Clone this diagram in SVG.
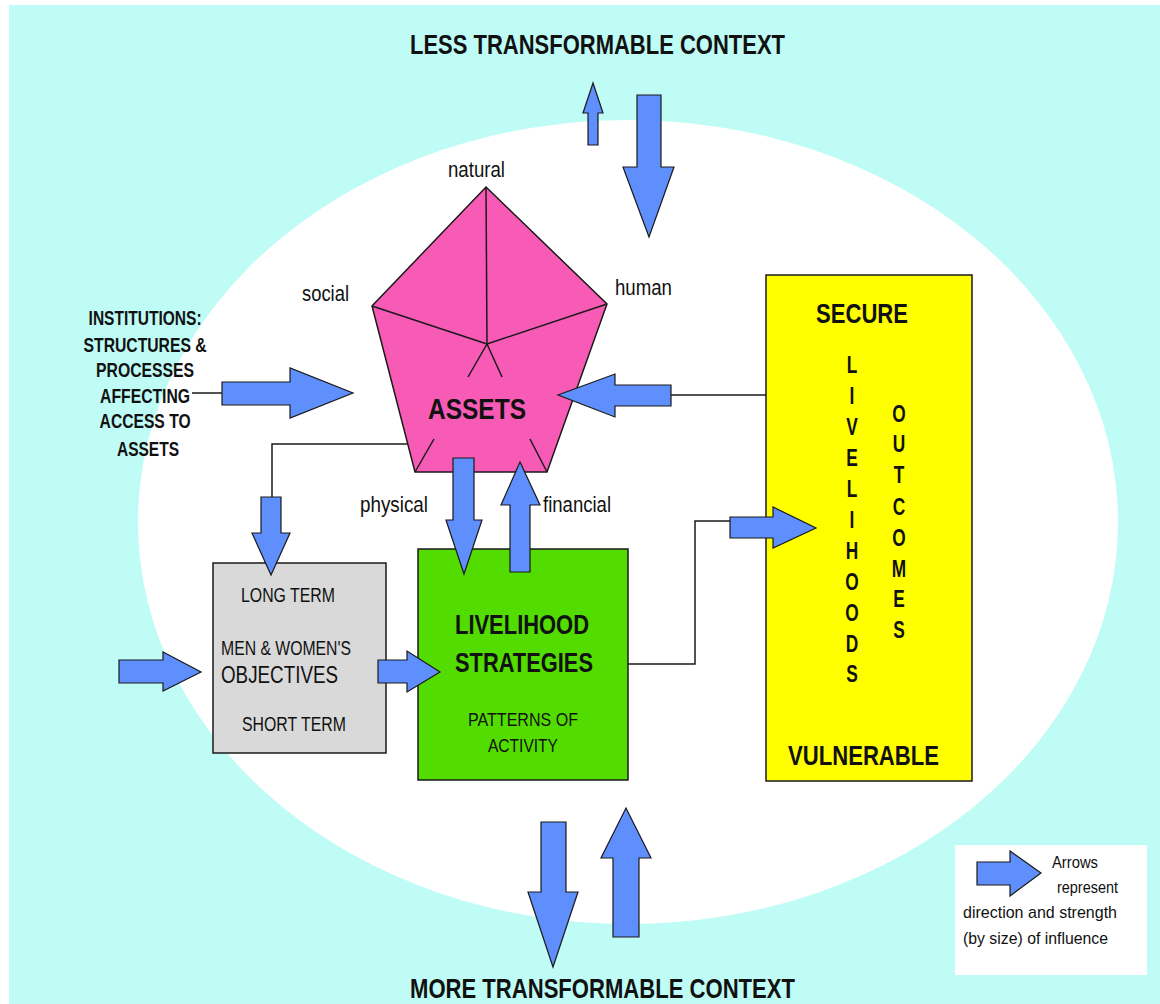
<svg xmlns="http://www.w3.org/2000/svg" width="1160" height="1004" viewBox="0 0 1160 1004">
<defs>
<style>
.t{font-family:"Liberation Sans Narrow","Liberation Sans",Arial,sans-serif;fill:#111}
.b{font-weight:bold}
.arr{fill:#5f8ffc;stroke:#1a1a1a;stroke-width:1.2;stroke-linejoin:miter}
.ln{fill:none;stroke:#1a1a1a;stroke-width:1.5}
.box{stroke:#1a1a1a;stroke-width:1.5}
</style>
</defs>
<rect x="0" y="0" width="1160" height="1004" fill="#ffffff"/>
<rect x="9" y="5" width="1151" height="999" fill="#bffcf6"/>
<ellipse cx="628" cy="522" rx="490" ry="402" fill="#ffffff"/>

<g id="context-top">
<text class="t b" x="410" y="54" font-size="28" textLength="375" lengthAdjust="spacingAndGlyphs">LESS TRANSFORMABLE CONTEXT</text>
</g>
<g id="context-bottom">
<text class="t b" x="410" y="998" font-size="28" textLength="385" lengthAdjust="spacingAndGlyphs">MORE TRANSFORMABLE CONTEXT</text>
</g>

<g id="institutions">
<text class="t b" font-size="21" text-anchor="middle">
<tspan x="148" y="325" textLength="113" lengthAdjust="spacingAndGlyphs">INSTITUTIONS:</tspan>
<tspan x="148" y="352" textLength="123" lengthAdjust="spacingAndGlyphs">STRUCTURES &amp;</tspan>
<tspan x="148" y="377" textLength="98" lengthAdjust="spacingAndGlyphs">PROCESSES</tspan>
<tspan x="148" y="403" textLength="90" lengthAdjust="spacingAndGlyphs">AFFECTING</tspan>
<tspan x="148" y="428" textLength="91" lengthAdjust="spacingAndGlyphs">ACCESS TO</tspan>
<tspan x="148" y="456" textLength="62" lengthAdjust="spacingAndGlyphs">ASSETS</tspan>
</text>
</g>

<g id="assets">
<polygon points="486,187 607,304 547,472 415,472 372,306" fill="#f75bb6" stroke="#1a1a1a" stroke-width="1.5"/>
<g class="ln" stroke-width="1.3">
<line x1="487" y1="344" x2="486" y2="187"/>
<line x1="487" y1="344" x2="372" y2="306"/>
<line x1="487" y1="344" x2="607" y2="304"/>
<line x1="487" y1="344" x2="468" y2="377"/>
<line x1="487" y1="344" x2="502" y2="377"/>
<line x1="415" y1="472" x2="434" y2="439"/>
<line x1="547" y1="472" x2="530" y2="439"/>
</g>
<text class="t b" x="428" y="419" font-size="29" textLength="98" lengthAdjust="spacingAndGlyphs">ASSETS</text>
<text class="t" x="448" y="177" font-size="22" textLength="57" lengthAdjust="spacingAndGlyphs">natural</text>
<text class="t" x="302" y="301" font-size="22" textLength="47" lengthAdjust="spacingAndGlyphs">social</text>
<text class="t" x="615" y="295" font-size="22" textLength="57" lengthAdjust="spacingAndGlyphs">human</text>
<text class="t" x="360" y="512" font-size="22" textLength="68" lengthAdjust="spacingAndGlyphs">physical</text>
<text class="t" x="543" y="512" font-size="22" textLength="68" lengthAdjust="spacingAndGlyphs">financial</text>
</g>

<g id="objectives">
<rect class="box" x="213" y="563" width="173" height="190" fill="#d9d9d9"/>
<text class="t" x="241" y="602" font-size="20" textLength="94" lengthAdjust="spacingAndGlyphs">LONG TERM</text>
<text class="t" x="221" y="655" font-size="20" textLength="130" lengthAdjust="spacingAndGlyphs">MEN &amp; WOMEN'S</text>
<text class="t" x="221" y="683" font-size="23" textLength="117" lengthAdjust="spacingAndGlyphs">OBJECTIVES</text>
<text class="t" x="242" y="731" font-size="21" textLength="104" lengthAdjust="spacingAndGlyphs">SHORT TERM</text>
</g>

<g id="strategies">
<rect class="box" x="418" y="549" width="210" height="231" fill="#52dc00"/>
<text class="t b" x="455" y="634" font-size="28" textLength="134" lengthAdjust="spacingAndGlyphs">LIVELIHOOD</text>
<text class="t b" x="455" y="672" font-size="28" textLength="138" lengthAdjust="spacingAndGlyphs">STRATEGIES</text>
<text class="t" x="468" y="726" font-size="19" textLength="110" lengthAdjust="spacingAndGlyphs">PATTERNS OF</text>
<text class="t" x="488" y="752" font-size="19" textLength="70" lengthAdjust="spacingAndGlyphs">ACTIVITY</text>
</g>

<g id="outcomes">
<rect class="box" x="766" y="275" width="206" height="506" fill="#ffff00"/>
<text class="t b" x="816" y="323" font-size="28" textLength="92" lengthAdjust="spacingAndGlyphs">SECURE</text>
<text class="t b" x="788" y="765" font-size="28" textLength="151" lengthAdjust="spacingAndGlyphs">VULNERABLE</text>
<text class="t b" font-size="24" text-anchor="middle" transform="translate(852 0) scale(0.72 1)">
<tspan x="0" y="373">L</tspan><tspan x="0" y="404">I</tspan><tspan x="0" y="435">V</tspan><tspan x="0" y="466">E</tspan><tspan x="0" y="497">L</tspan><tspan x="0" y="528">I</tspan><tspan x="0" y="559">H</tspan><tspan x="0" y="590">O</tspan><tspan x="0" y="621">O</tspan><tspan x="0" y="652">D</tspan><tspan x="0" y="682">S</tspan>
</text>
<text class="t b" font-size="24" text-anchor="middle" transform="translate(899 0) scale(0.72 1)">
<tspan x="0" y="422">O</tspan><tspan x="0" y="452">U</tspan><tspan x="0" y="483">T</tspan><tspan x="0" y="515">C</tspan><tspan x="0" y="546">O</tspan><tspan x="0" y="577">M</tspan><tspan x="0" y="607">E</tspan><tspan x="0" y="638">S</tspan>
</text>
</g>

<g id="legend">
<rect x="955" y="845" width="192" height="130" fill="#ffffff"/>
<polygon class="arr" points="977,862 1010,862 1010,851 1041,873 1010,896 1010,885 977,885"/>
<text class="t" font-size="17">
<tspan x="1052" y="868" textLength="46" lengthAdjust="spacingAndGlyphs">Arrows</tspan>
<tspan x="1057" y="893" textLength="61" lengthAdjust="spacingAndGlyphs">represent</tspan>
<tspan x="963" y="918" textLength="154" lengthAdjust="spacingAndGlyphs">direction and strength</tspan>
<tspan x="963" y="944" textLength="145" lengthAdjust="spacingAndGlyphs">(by size) of influence</tspan>
</text>
</g>

<g id="connectors">
<polyline class="ln" points="192,393 222,393"/>
<polyline class="ln" points="407,444 272,444 272,497"/>
<polyline class="ln" points="671,395 766,395"/>
<polyline class="ln" points="628,664 695,664 695,521 730,521"/>
<polygon class="arr" points="588,145 588,113 583,113 593,83 603,113 598,113 598,145"/>
<polygon class="arr" points="637,95 661,95 661,167 674,167 649,237 623,167 637,167"/>
<polygon class="arr" points="222,382 290,382 290,368 353,393 290,418 290,405 222,405"/>
<polygon class="arr" points="671,385 615,385 615,374 558,395 615,417 615,406 671,406"/>
<polygon class="arr" points="261,497 281,497 281,533 290,533 271,575 252,533 261,533"/>
<polygon class="arr" points="119,660 163,660 163,652 201,672 163,691 163,683 119,683"/>
<polygon class="arr" points="378,660 407,660 407,651 440,672 407,692 407,683 378,683"/>
<polygon class="arr" points="453,458 474,458 474,520 482,520 464,574 446,520 453,520"/>
<polygon class="arr" points="510,572 530,572 530,505 540,505 520,462 501,505 510,505"/>
<polygon class="arr" points="730,517 773,517 773,507 816,528 773,548 773,538 730,538"/>
<polygon class="arr" points="541,822 566,822 566,892 578,892 553,967 528,892 541,892"/>
<polygon class="arr" points="613,937 639,937 639,858 651,858 626,808 601,858 613,858"/>
</g>
</svg>
